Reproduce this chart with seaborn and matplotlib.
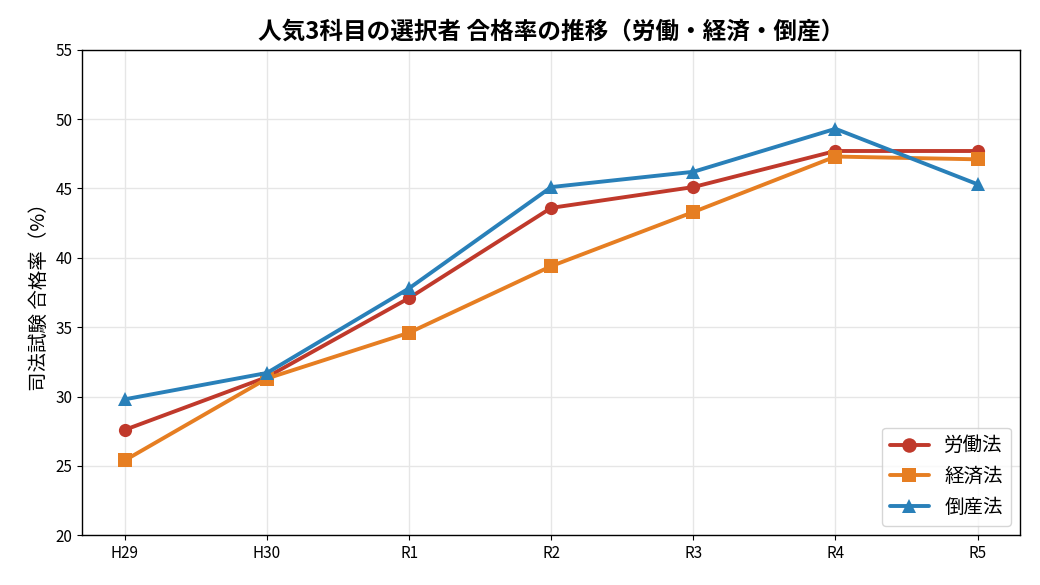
import numpy as np
import pandas as pd
import matplotlib
matplotlib.use("Agg")
import matplotlib.pyplot as plt
import seaborn as sns

# data
years = ['H29', 'H30', 'R1', 'R2', 'R3', 'R4', 'R5']
labor = [27.6, 31.4, 37.1, 43.6, 45.1, 47.7, 47.7]
economic = [25.4, 31.3, 34.6, 39.4, 43.3, 47.3, 47.1]
bankruptcy = [29.8, 31.7, 37.8, 45.1, 46.2, 49.3, 45.3]
subjects = ['労働法', '経済法', '倒産法']

df = pd.DataFrame({
    'year': years * 3,
    'subject': [s for s in subjects for _ in years],
    'rate': labor + economic + bankruptcy,
})
df['x'] = df['year'].map({y: i for i, y in enumerate(years)})

sns.set_style("ticks")
plt.rcParams['font.family'] = ['Noto Sans CJK JP', 'DejaVu Sans']
plt.rcParams['text.color'] = 'black'
plt.rcParams['axes.labelcolor'] = 'black'
plt.rcParams['xtick.color'] = 'black'
plt.rcParams['ytick.color'] = 'black'

fig, ax = plt.subplots(figsize=(10.4, 5.85), dpi=100)
palette = {'労働法': '#c0392b', '経済法': '#e67e22', '倒産法': '#2980b9'}
markers = {'労働法': 'o', '経済法': 's', '倒産法': '^'}
sns.lineplot(data=df, x='x', y='rate', hue='subject', style='subject',
             palette=palette, markers=markers, dashes=False,
             linewidth=2.8, markersize=9.5, markeredgewidth=0, ax=ax)

ax.set_xticks(range(len(years)))
ax.set_xticklabels(years)
ax.set_xlim(-0.3, 6.3)
ax.set_ylim(20, 55)
ax.set_yticks(range(20, 56, 5))
ax.grid(True, color='#e6e6e6', linewidth=1)
ax.set_axisbelow(True)
for s in ax.spines.values():
    s.set_visible(True)
    s.set_color('black')
    s.set_linewidth(1)
ax.tick_params(labelsize=11)
ax.set_xlabel('')
ax.set_ylabel('司法試験 合格率（%）', fontsize=14)
ax.set_title('人気3科目の選択者 合格率の推移（労働・経済・倒産）',
             fontsize=17, fontweight='bold', pad=8)
leg = ax.legend(loc='lower right', fontsize=14, frameon=True, title=None,
                markerscale=1.1)
leg.get_frame().set_edgecolor('#cccccc')

fig.subplots_adjust(left=0.079, right=0.981, top=0.915, bottom=0.085)
fig.savefig('out.png', dpi=100)
